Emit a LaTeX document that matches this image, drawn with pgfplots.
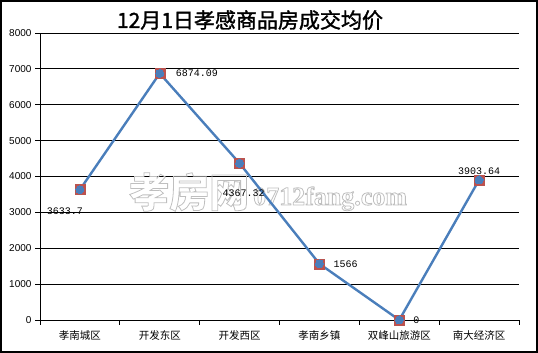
\documentclass[border=0pt]{standalone}
\usepackage{pgfplots}
\pgfplotsset{compat=1.18}
\usepackage{fontspec}
\setmainfont{Liberation Sans}
\newfontfamily\cjk{Noto Sans CJK SC}
\newfontfamily\cjkb{Noto Sans CJK SC}[FakeBold=1.5]
\newfontfamily\wmA{Noto Sans CJK SC Black}
\newfontfamily\wmB{Liberation Serif Bold}
\newfontfamily\mono{Liberation Mono}
\definecolor{lineblue}{HTML}{4A7EBB}
\definecolor{sqred}{HTML}{C0504D}
\definecolor{sqedge}{HTML}{B85450}
\newcommand\outl[1]{\special{pdf:literal direct 1 Tr 0.8 w}#1\special{pdf:literal direct 0 Tr}}
\pgfplotsset{base/.style={at={(40pt,33pt)}, anchor=south west, scale only axis,
  width=479pt, height=287pt, xmin=-0.5, xmax=5.5, ymin=0, ymax=8000, clip=false}}
\begin{document}
\begin{tikzpicture}[x=1pt,y=1pt]
\useasboundingbox (0,0) rectangle (538,353);
\draw[line width=2pt] (1,1) rectangle (537,352);
\node[font=\cjkb\fontsize{21}{21}\selectfont] at (250,333) {12月1日孝感商品房成交均价};
\begin{axis}[base,
  ytick={0,1000,...,8000},
  ymajorgrids, grid style={black, line width=0.8pt},
  axis lines=left, axis line style={-, black, line width=0.8pt},
  xtick={0,...,5},
  xticklabels={孝南城区,开发东区,开发西区,孝南乡镇,双峰山旅游区,南大经济区},
  x tick label style={font=\cjk\fontsize{10.5}{10.5}\selectfont, yshift=-2pt},
  major x tick style={draw=none},
  minor xtick={-0.5,0.5,...,5.5},
  minor tick length=5pt, major tick length=5pt,
  tick align=outside, tick style={black, line width=0.8pt},
  scaled y ticks=false,
  /pgf/number format/assume math mode=true,
  y tick label style={/pgf/number format/1000 sep={}, font=\fontsize{10}{10}\selectfont}]
\addplot[draw=none] coordinates {(0,0)};
\end{axis}
\node[text=gray!50, font=\wmA\fontsize{40}{40}\selectfont, anchor=base west, inner sep=0pt] at (129,146) {\outl{孝房网}};
\node[text=gray!50, font=\wmB\fontsize{26}{26}\selectfont, anchor=base west, inner sep=0pt] at (253,148) {\outl{0712fang.com}};
\begin{axis}[base, hide axis]
\addplot[only marks, mark=square*, mark size=5pt, mark options={fill=sqred, draw=sqedge}]
  coordinates {(0,3633.7) (1,6874.09) (2,4367.32) (3,1566) (4,0) (5,3903.64)};
\addplot[lineblue, line width=2.4pt, mark=*, mark size=4pt, mark options={fill=lineblue, draw=lineblue, line width=0pt}]
  coordinates {(0,3633.7) (1,6874.09) (2,4367.32) (3,1566) (4,0) (5,3903.64)};
\begin{scope}[every node/.style={font=\mono\fontsize{10}{10}\selectfont, inner sep=0pt}]
\node[anchor=north, xshift=-15pt, yshift=-18pt] at (axis cs:0,3633.7) {3633.7};
\node[anchor=west, xshift=16pt] at (axis cs:1,6874.09) {6874.09};
\node[anchor=north, xshift=4pt, yshift=-26pt] at (axis cs:2,4367.32) {4367.32};
\node[anchor=west, xshift=14pt] at (axis cs:3,1566) {1566};
\node[anchor=west, xshift=14pt] at (axis cs:4,0) {0};
\node[anchor=south, yshift=5pt] at (axis cs:5,3903.64) {3903.64};
\end{scope}
\end{axis}
\end{tikzpicture}
\end{document}
